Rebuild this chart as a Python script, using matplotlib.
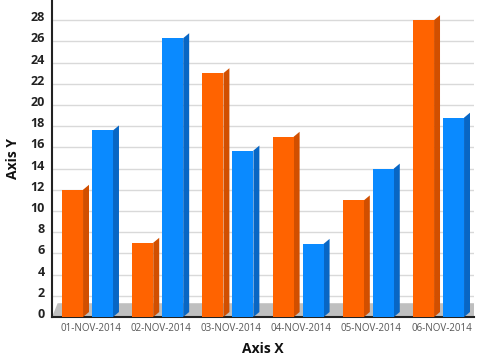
import matplotlib
matplotlib.use("Agg")
import matplotlib.pyplot as plt
from matplotlib.patches import Polygon
from matplotlib.transforms import ScaledTranslation
import numpy as np

categories = ["01-NOV-2014", "02-NOV-2014", "03-NOV-2014", "04-NOV-2014", "05-NOV-2014", "06-NOV-2014"]
series_orange = [12, 7, 23, 17, 11, 28]
series_blue = [17.6, 26.3, 15.7, 6.9, 14, 18.8]
y_ticks = list(range(0, 30, 2))

plt.rcParams['font.family'] = ['Open Sans', 'DejaVu Sans']

fig = plt.figure(figsize=(4.78, 3.6), dpi=100)
ax = fig.add_axes([52/478, 43/360, 422/478, 317/360])

xlim = (-0.548, 5.463)
ylim = (0, 29.9)
ax.set_xlim(*xlim)
ax.set_ylim(*ylim)

x = np.arange(len(categories))
w = 0.30
off_o = -0.256
off_b = 0.171
depth_x = 0.085
depth_y = 0.47

# floor
floor_h = 1.3
ax.add_patch(Polygon([(xlim[0], 0), (xlim[0] + 0.08, floor_h), (xlim[1], floor_h), (xlim[1], 0)],
                     closed=True, facecolor="#BFBFBF", edgecolor="none", zorder=1))

front_o, side_o = "#FF6300", "#D14F00"
front_b, side_b = "#0A8AFF", "#0866C4"

ax.bar(x + off_o, series_orange, width=w, color=front_o, zorder=3)
ax.bar(x + off_b, series_blue, width=w, color=front_b, zorder=3)

for xi, v in zip(x + off_o, series_orange):
    xr = xi + w / 2
    ax.add_patch(Polygon([(xr, 0), (xr, v), (xr + depth_x, v + depth_y), (xr + depth_x, depth_y)],
                         closed=True, facecolor=side_o, edgecolor="none", zorder=2.9))
for xi, v in zip(x + off_b, series_blue):
    xr = xi + w / 2
    ax.add_patch(Polygon([(xr, 0), (xr, v), (xr + depth_x, v + depth_y), (xr + depth_x, depth_y)],
                         closed=True, facecolor=side_b, edgecolor="none", zorder=2.9))

ax.set_yticks(y_ticks)
ax.set_yticklabels([str(t) for t in y_ticks], fontsize=9, fontweight="bold", color="#222222")
ax.set_xticks(x)
ax.set_xticklabels(categories, fontsize=7, color="#555555")
ax.tick_params(axis="y", length=0, pad=5)
ax.tick_params(axis="x", length=0, pad=4)
for lab in ax.get_yticklabels():
    lab.set_transform(lab.get_transform() + ScaledTranslation(0, 4/100, fig.dpi_scale_trans))

ax.grid(axis="y", color="#D9D9D9", linewidth=1, zorder=0)
ax.set_axisbelow(True)
for s in ["top", "right"]:
    ax.spines[s].set_visible(False)
ax.spines["left"].set_color("#222222")
ax.spines["bottom"].set_color("#222222")
ax.spines["left"].set_linewidth(1.5)
ax.spines["bottom"].set_linewidth(1.5)

ax.set_xlabel("Axis X", fontsize=10, fontweight="bold", color="#111111", labelpad=6)
ax.set_ylabel("Axis Y", fontsize=10, fontweight="bold", color="#111111", labelpad=8)

fig.savefig("out.png", dpi=100)
